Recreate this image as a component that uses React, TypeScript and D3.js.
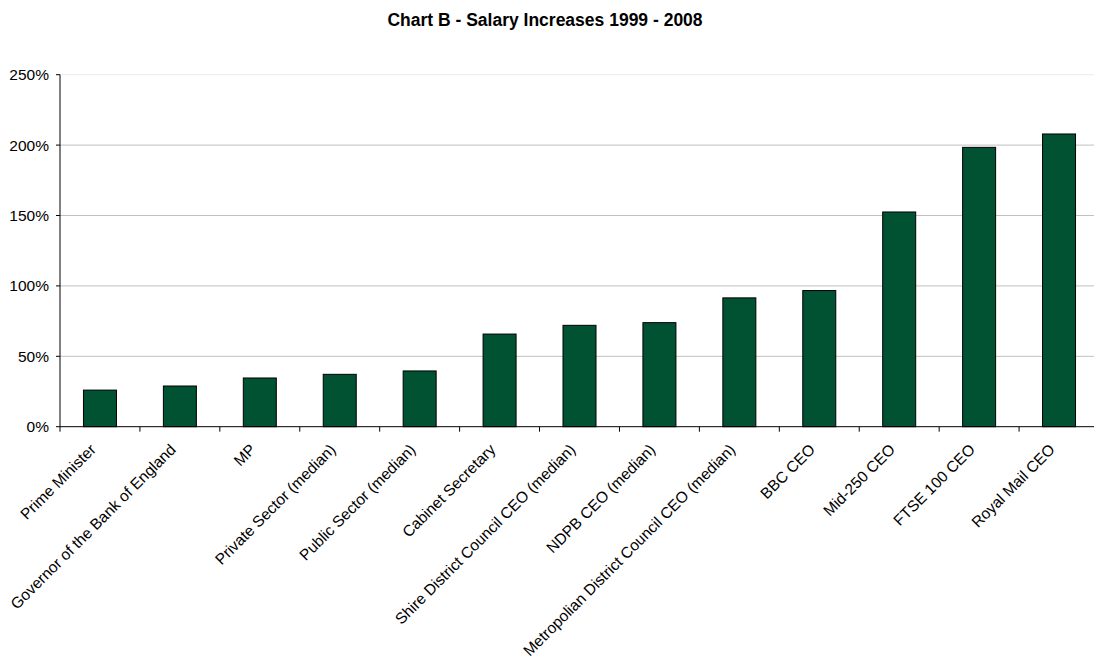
import React from "react";
import * as d3 from "d3";

const categories = [
  "Prime Minister",
  "Governor of the Bank of England",
  "MP",
  "Private Sector (median)",
  "Public Sector (median)",
  "Cabinet Secretary",
  "Shire District Council CEO (median)",
  "NDPB CEO (median)",
  "Metropolian District Council CEO (median)",
  "BBC CEO",
  "Mid-250 CEO",
  "FTSE 100 CEO",
  "Royal Mail CEO",
];
const values = [26, 28.9, 34.6, 37.2, 39.6, 65.8, 72, 73.9, 91.5, 96.7, 152.5, 198.4, 207.9];
const yTicks = [0, 50, 100, 150, 200, 250];
const title = "Chart B - Salary Increases 1999 - 2008";

export default function App() {
  const W = 1094;
  const H = 657;
  const left = 60;
  const right = 1099;
  const top = 74.7;
  const bottom = 426.7;
  const x = d3.scaleBand<string>().domain(categories).range([left, right]).paddingInner(0).paddingOuter(0);
  const y = d3.scaleLinear().domain([0, 250]).range([bottom, top]);
  const barW = 33;
  const font = "Arial, 'Liberation Sans', sans-serif";
  return (
    <svg width={W} height={H} style={{ position: "absolute", left: 0, top: 0, background: "#fff" }} fontFamily={font}>
      <rect x={0} y={0} width={W} height={H} fill="#fff" />
      <text x={545} y={26} textAnchor="middle" fontSize={17.5} fontWeight="bold" fill="#000">
        {title}
      </text>
      {yTicks.map((t) => (
        <g key={t}>
          {t > 0 && (
            <line x1={left} x2={right} y1={y(t)} y2={y(t)} stroke={t === 250 ? "#ececec" : "#c0c0c0"} strokeWidth={1} />
          )}
          <line x1={left - 4} x2={left} y1={y(t)} y2={y(t)} stroke="#000" strokeWidth={1} />
          <text x={left - 11} y={y(t)} dy="0.35em" textAnchor="end" fontSize={15.5} fill="#000">
            {t + "%"}
          </text>
        </g>
      ))}
      {categories.map((c, i) => (
        <rect
          key={c}
          x={(x(c) as number) + x.bandwidth() / 2 - barW / 2}
          y={y(values[i])}
          width={barW}
          height={bottom - y(values[i])}
          fill="#005232"
          stroke="#000"
          strokeWidth={1}
        />
      ))}
      <line x1={left} x2={left} y1={top} y2={bottom} stroke="#000" strokeWidth={1} />
      <line x1={left} x2={right} y1={bottom} y2={bottom} stroke="#000" strokeWidth={1} />
      {categories.map((c, i) => (
        <line key={"t" + i} x1={x(c) as number} x2={x(c) as number} y1={bottom} y2={bottom + 5} stroke="#000" strokeWidth={1} />
      ))}
      {categories.map((c) => {
        const cx = (x(c) as number) + x.bandwidth() / 2;
        return (
          <text
            key={"l" + c}
            transform={`translate(${cx - 7},${bottom + 20}) rotate(-45)`}
            textAnchor="end"
            dy="0.35em"
            fontSize={15.5}
            fill="#000"
          >
            {c}
          </text>
        );
      })}
    </svg>
  );
}
